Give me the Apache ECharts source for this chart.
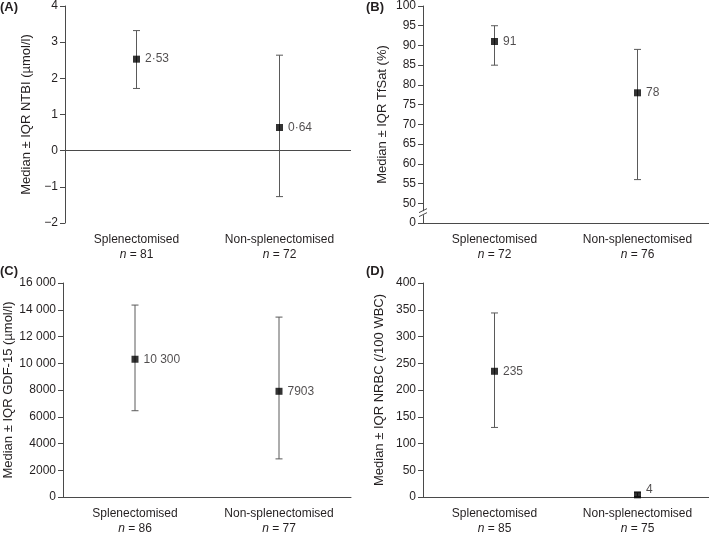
<!DOCTYPE html>
<html>
<head>
<meta charset="utf-8">
<style>
  html, body { margin: 0; padding: 0; background: #fff; }
  #chart { width: 709px; height: 536px; }
</style>
<script src="https://cdn.jsdelivr.net/npm/echarts@6/dist/echarts.min.js"></script>
</head>
<body>
<div id="chart"></div>
<script>
// ── data ──
const categories = ["Splenectomised", "Non-splenectomised"];

// (A) NTBI
const nA = [81, 72];
const medianA = [2.53, 0.64];
const q1A = [1.72, -1.27];
const q3A = [3.32, 2.64];
const labelA = ["2·53", "0·64"];

// (B) TfSat — axis broken between 0 and 50
const nB = [72, 76];
const medianB = [91, 78];
const q1B = [85, 56];
const q3B = [95, 89];
const labelB = ["91", "78"];

// (C) GDF-15
const nC = [86, 77];
const medianC = [10300, 7903];
const q1C = [6450, 2850];
const q3C = [14350, 13450];
const labelC = ["10 300", "7903"];

// (D) NRBC
const nD = [85, 75];
const medianD = [235, 4];
const q1D = [130, 1];
const q3D = [344, 8];
const labelD = ["235", "4"];

const FONT = "'Liberation Sans', Arial, Helvetica, sans-serif";
const TEXT = "#231f20";
const AXIS = "#4a4a4a";

const chart = echarts.init(document.getElementById("chart"));

// ── helpers ──
function errItem(params, api) {
  const x = api.value(0);
  const lo = api.coord([x, api.value(1)]);
  const hi = api.coord([x, api.value(2)]);
  const w = 3.5;
  const st = { stroke: "#5a5a5a", lineWidth: 1 };
  return {
    type: "group",
    children: [
      { type: "line", shape: { x1: lo[0], y1: lo[1], x2: hi[0], y2: hi[1] }, style: st },
      { type: "line", shape: { x1: lo[0] - w, y1: lo[1], x2: lo[0] + w, y2: lo[1] }, style: st },
      { type: "line", shape: { x1: hi[0] - w, y1: hi[1], x2: hi[0] + w, y2: hi[1] }, style: st },
    ],
  };
}

function xAxisFor(idx, n, showLine) {
  return {
    type: "category",
    gridIndex: idx,
    data: categories,
    axisLine: { show: showLine, onZero: false, lineStyle: { color: AXIS, width: 1 } },
    axisTick: { show: false },
    axisLabel: {
      margin: 9,
      color: TEXT,
      fontFamily: FONT,
      fontSize: 12,
      lineHeight: 15,
      formatter: (v, i) => `${v}\n{i|n} = ${n[i]}`,
      rich: {
        i: { fontStyle: "italic", fontFamily: FONT, fontSize: 12, color: TEXT, lineHeight: 15 },
      },
    },
  };
}

function yAxisFor(idx, opts) {
  return Object.assign({
    type: "value",
    gridIndex: idx,
    nameLocation: "middle",
    nameRotate: 90,
    nameTextStyle: { color: TEXT, fontFamily: FONT, fontSize: 13 },
    axisLine: { show: true, lineStyle: { color: AXIS, width: 1 } },
    axisTick: { show: true, length: 5, lineStyle: { color: AXIS } },
    splitLine: { show: false },
    axisLabel: { color: TEXT, fontFamily: FONT, fontSize: 12, margin: 7 },
  }, opts);
}

function seriesFor(idx, median, q1, q3, labels, extra) {
  const err = {
    type: "custom",
    xAxisIndex: idx,
    yAxisIndex: idx,
    renderItem: errItem,
    data: median.map((_, i) => [i, q1[i], q3[i]]),
    z: 2,
    silent: true,
  };
  const pts = Object.assign({
    type: "scatter",
    xAxisIndex: idx,
    yAxisIndex: idx,
    symbol: "rect",
    symbolSize: 7,
    itemStyle: { color: "#000" },
    z: 3,
    data: median.map((v, i) => ({ value: [i, v] })),
    label: {
      show: true,
      position: "right",
      distance: 5,
      color: TEXT,
      fontFamily: FONT,
      fontSize: 12,
      formatter: (p) => labels[p.dataIndex],
    },
  }, extra || {});
  return [err, pts];
}

// (D): small label lifted above the point for the second group
const seriesD = seriesFor(3, medianD, q1D, q3D, labelD);
seriesD[1].data[1].label = { offset: [0, -5] };

const option = {
  animation: false,
  textStyle: { fontFamily: FONT },
  title: [
    { text: "(A)", left: 0, top: 1 },
    { text: "(B)", left: 366, top: 1 },
    { text: "(C)", left: 0, top: 265 },
    { text: "(D)", left: 366, top: 265 },
  ].map((t) => Object.assign(t, {
    padding: 0,
    textStyle: { fontFamily: FONT, fontSize: 13, fontWeight: "bold", color: TEXT },
  })),
  grid: [
    { left: 65, right: 358, top: 5, bottom: 313 },
    { left: 423, right: 0, top: 5, bottom: 313 },
    { left: 63, right: 358, top: 283, bottom: 33 },
    { left: 423, right: 0, top: 283, bottom: 34 },
  ],
  xAxis: [
    xAxisFor(0, nA, false),
    xAxisFor(1, nB, true),
    xAxisFor(2, nC, true),
    xAxisFor(3, nD, true),
  ],
  yAxis: [
    yAxisFor(0, {
      name: "Median ± IQR NTBI (µmol/l)",
      nameGap: 32,
      min: -2, max: 4, interval: 1,
      axisLabel: {
        color: TEXT, fontFamily: FONT, fontSize: 12, margin: 7,
        formatter: (v) => (v < 0 ? "\u2212" + Math.abs(v) : String(v)),
      },
    }),
    yAxisFor(1, {
      name: "Median ± IQR TfSat (%)",
      nameGap: 34,
      min: 45, max: 100, interval: 5,
      axisLabel: {
        color: TEXT, fontFamily: FONT, fontSize: 12, margin: 7,
        formatter: (v) => (v === 45 ? "0" : String(v)),
      },
    }),
    yAxisFor(2, {
      name: "Median ± IQR GDF-15 (µmol/l)",
      nameGap: 48,
      min: 0, max: 16000, interval: 2000,
      axisLabel: {
        color: TEXT, fontFamily: FONT, fontSize: 12, margin: 7,
        formatter: (v) => (v >= 10000 ? Math.floor(v / 1000) + " 000" : String(v)),
      },
    }),
    yAxisFor(3, {
      name: "Median ± IQR NRBC (/100 WBC)",
      nameGap: 37,
      min: 0, max: 400, interval: 50,
    }),
  ],
  series: [
    ...seriesFor(0, medianA, q1A, q3A, labelA, {
      markLine: {
        silent: true,
        symbol: ["none", "none"],
        label: { show: false },
        lineStyle: { color: AXIS, width: 1, type: "solid" },
        data: [{ yAxis: 0 }],
      },
    }),
    ...seriesFor(1, medianB, q1B, q3B, labelB),
    ...seriesFor(2, medianC, q1C, q3C, labelC),
    ...seriesD,
  ],
};

chart.setOption(option);

// ── axis break mark on (B) between 0 and 50 ──
const bx = 423;
const yBreak = chart.convertToPixel({ yAxisIndex: 1 }, 47.5);
chart.setOption({
  graphic: [
    { type: "rect", shape: { x: bx - 1.5, y: yBreak - 2, width: 3, height: 4 }, style: { fill: "#fff" }, z: 100 },
    { type: "line", shape: { x1: bx - 4, y1: yBreak - 0.5, x2: bx + 4, y2: yBreak - 4.5 }, style: { stroke: AXIS, lineWidth: 1 }, z: 101 },
    { type: "line", shape: { x1: bx - 4, y1: yBreak + 3.5, x2: bx + 4, y2: yBreak - 0.5 }, style: { stroke: AXIS, lineWidth: 1 }, z: 101 },
  ],
});
</script>
</body>
</html>
